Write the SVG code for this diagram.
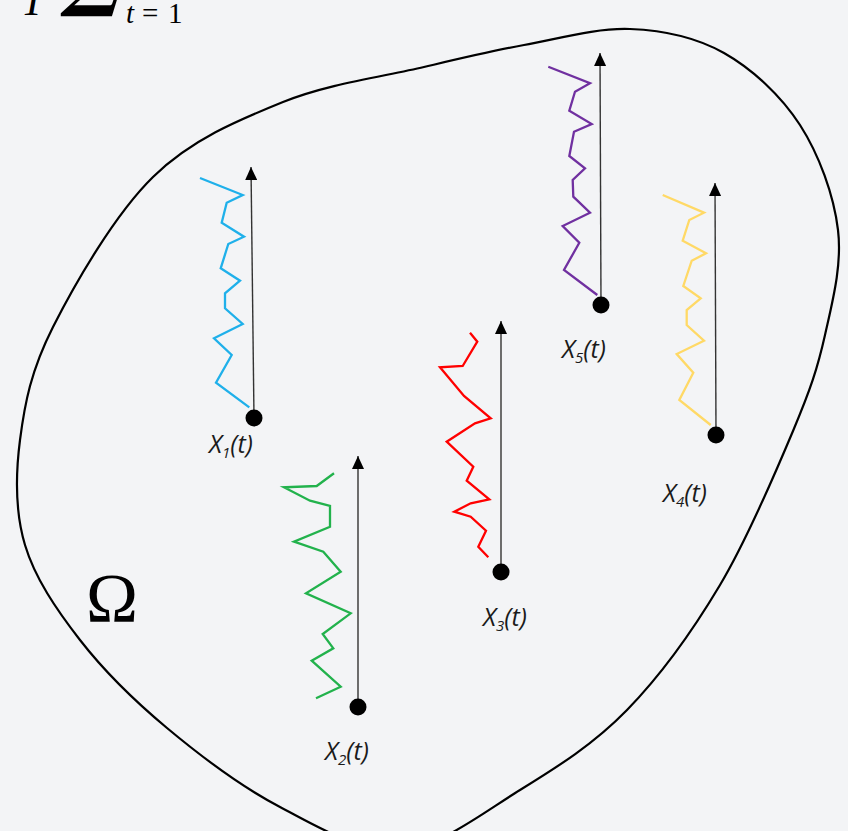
<svg xmlns="http://www.w3.org/2000/svg" width="848" height="831" viewBox="0 0 848 831">
  <defs>
    <marker id="arrow" viewBox="0 0 13 12" refX="13" refY="6" markerWidth="13" markerHeight="12" markerUnits="userSpaceOnUse" orient="auto">
      <path d="M0,0 L13,6 L0,12 Z" fill="#000"/>
    </marker>
    <style>
      .walk { fill: none; stroke-width: 2.3; stroke-linejoin: miter; }
      .axis { stroke: #333; stroke-width: 1.4; fill: none; }
      .dot { fill: #000; }
      .lbl { font-family: "Open Sans", "DejaVu Sans", sans-serif; font-style: italic; font-size: 25px; fill: #1a1a1a; }
      .sub { font-size: 15px; }
      .domain { fill: none; stroke: #000; stroke-width: 2.2; }
    </style>
  </defs>
  <rect width="848" height="831" fill="#f3f4f6"/>

  <g id="formula">
    <text x="21" y="15" font-family="Liberation Serif, serif" font-style="italic" font-size="42" fill="#000">T</text>
    <text x="60" y="1" font-family="DejaVu Serif, serif" font-weight="bold" font-size="80" fill="#000">∑</text>
    <text y="23" font-family="Liberation Serif, serif" font-size="29" fill="#000"><tspan x="126" font-style="italic">t</tspan><tspan x="142">=</tspan><tspan x="168">1</tspan></text>
  </g>

  <g id="domain">
    <path class="domain" d="M630,29 C663.3,30.3 695.7,37 724,53 C752.3,69 781,95.5 800,125 C819,154.5 833.8,195 838,230 C842.2,265 832.5,301.5 825,335 C817.5,368.5 810.5,389.3 793,431 C775.5,472.7 747.7,538.5 720,585 C692.3,631.5 660.3,675.8 627,710 C593.7,744.2 557.8,766.7 520,790 C482.2,813.3 440,847.2 400,850 C360,852.8 318.8,827.3 280,807 C241.2,786.7 200.3,755.8 167,728 C133.7,700.2 103.7,670.5 80,640 C56.3,609.5 35,578.3 25,545 C15,511.7 15.3,476.3 20,440 C24.7,403.7 30.8,370.8 53,327 C75.2,283.2 114.7,214.5 153,177 C191.3,139.5 237.8,120.3 283,102 C328.2,83.7 383.8,76.5 424,67 C464.2,57.5 489.7,51.3 524,45 C558.3,38.7 596.7,27.7 630,29 Z"/>
    <text x="86" y="622" font-family="Liberation Serif, serif" font-size="70" fill="#000">Ω</text>
  </g>

  <g id="connectors">
    <line class="axis" x1="254" y1="418" x2="251" y2="167" marker-end="url(#arrow)"/>
    <line class="axis" x1="358" y1="707" x2="358" y2="456" marker-end="url(#arrow)"/>
    <line class="axis" x1="501" y1="572" x2="501" y2="321" marker-end="url(#arrow)"/>
    <line class="axis" x1="716" y1="435" x2="715" y2="183" marker-end="url(#arrow)"/>
    <line class="axis" x1="601" y1="305" x2="600" y2="53" marker-end="url(#arrow)"/>
  </g>

  <g id="X1">
    <polyline class="walk" stroke="#1fb0ea" points="200,178 242.7,195 226.7,202.7 221.7,222.7 244,236.7 228.3,244 220.7,268.3 240,280.7 225,293.3 225,308.3 242.7,324 214,338.3 231.7,355 216,382.7 249.3,407.3"/>
    <circle class="dot" cx="254" cy="418" r="8.5"/>
    <text class="lbl" x="209" y="453">X<tspan class="sub" dy="5">1</tspan><tspan dy="-5">(t)</tspan></text>
  </g>

  <g id="X2">
    <polyline class="walk" stroke="#22b24c" points="334,473.3 316.7,486 284,487.3 310,500.7 330,506 330,526.7 294,541.7 323.3,551.7 340.7,571.7 306,593.3 350.7,613.3 322.7,634 333.3,648.3 311.7,660.7 340.7,686.7 316,698.3"/>
    <circle class="dot" cx="358" cy="707" r="8.5"/>
    <text class="lbl" x="325" y="760">X<tspan class="sub" dy="5">2</tspan><tspan dy="-5">(t)</tspan></text>
  </g>

  <g id="X3">
    <polyline class="walk" stroke="#ff0000" points="470,332.7 477.3,341.7 462.7,366 440,367.3 464,396 490.7,418.3 475,423.3 446.7,441.7 473.3,466.7 466.7,480.7 489.3,499.3 470.7,503.3 454.3,511.7 470.7,516.7 486,530.7 478.3,546.7 488.3,557.3"/>
    <circle class="dot" cx="501" cy="572" r="8.5"/>
    <text class="lbl" x="483" y="626">X<tspan class="sub" dy="5">3</tspan><tspan dy="-5">(t)</tspan></text>
  </g>

  <g id="X4">
    <polyline class="walk" stroke="#ffd966" points="662.7,195 704,212.7 689.3,220 682.7,240.7 706,253.3 691.7,260.7 683.3,286 700.7,298.3 686.7,310 686.7,325 704,340.7 676.7,354 693.3,372.7 679.3,400 710.7,425"/>
    <circle class="dot" cx="716" cy="435" r="8.5"/>
    <text class="lbl" x="663" y="502">X<tspan class="sub" dy="5">4</tspan><tspan dy="-5">(t)</tspan></text>
  </g>

  <g id="X5">
    <polyline class="walk" stroke="#7030a0" points="548.3,66.7 590,83.3 575,91.7 569.3,110.7 591.7,124 574,131.7 569.3,156 585,168.3 572.7,180 573.3,196.7 590,212.7 562.7,226 579.3,242.7 564,270 597.3,295"/>
    <circle class="dot" cx="601" cy="305" r="8.5"/>
    <text class="lbl" x="562" y="358">X<tspan class="sub" dy="5">5</tspan><tspan dy="-5">(t)</tspan></text>
  </g>
</svg>
